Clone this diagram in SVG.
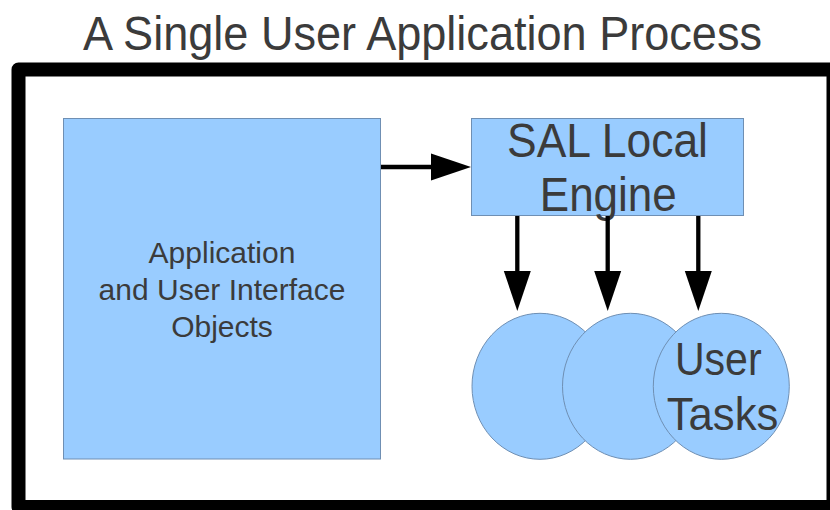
<svg xmlns="http://www.w3.org/2000/svg" width="830" height="510" viewBox="0 0 830 510">
  <style>
    .label { font-family: "Liberation Sans", Arial, sans-serif; fill: #3b3b3b; text-anchor: middle; }
    .shape { fill: #99ccff; stroke: #6f8fb3; stroke-width: 1; }
    .wire { stroke: #000; stroke-width: 4.3; fill: none; marker-end: url(#head); }
  </style>
  <defs>
    <marker id="head" markerUnits="userSpaceOnUse" markerWidth="42" markerHeight="30" refX="0" refY="13.5" orient="auto" overflow="visible">
      <path d="M0,0 L40,13.5 L0,27 Z" fill="#000"/>
    </marker>
  </defs>

  <rect width="830" height="510" fill="#fff"/>

  <!-- title -->
  <text id="title" class="label" x="422.5" y="50" font-size="48" textLength="679" lengthAdjust="spacingAndGlyphs">A Single User Application Process</text>

  <!-- process boundary -->
  <rect id="process" x="18.5" y="69.5" width="815" height="437.5" fill="none" stroke="#000" stroke-width="14" stroke-linejoin="round"/>

  <g id="app-objects">
    <rect class="shape" x="63.5" y="118.5" width="317" height="340.5"/>
    <text class="label" font-size="30" x="222" y="263.3">Application</text>
    <text class="label" font-size="30" x="222" y="300">and User Interface</text>
    <text class="label" font-size="30" x="222" y="336.7">Objects</text>
  </g>

  <g id="sal-engine">
    <rect class="shape" x="471.5" y="118.5" width="272" height="97"/>
    <text class="label" font-size="48" x="607.5" y="156.7" textLength="201" lengthAdjust="spacingAndGlyphs">SAL Local</text>
    <text class="label" font-size="48" x="608.3" y="210.7" textLength="137" lengthAdjust="spacingAndGlyphs">Engine</text>
  </g>

  <g id="task-1">
    <ellipse class="shape" cx="540" cy="386.3" rx="68" ry="73"/>
  </g>
  <g id="task-2">
    <ellipse class="shape" cx="630.5" cy="386.3" rx="68" ry="73"/>
  </g>
  <g id="task-3">
    <ellipse class="shape" cx="721.3" cy="386.3" rx="68" ry="73"/>
    <text class="label" font-size="46" x="718.3" y="375" textLength="86.7" lengthAdjust="spacingAndGlyphs">User</text>
    <text class="label" font-size="46" x="722.5" y="430" textLength="111.7" lengthAdjust="spacingAndGlyphs">Tasks</text>
  </g>

  <g id="connectors">
    <line class="wire" x1="381" y1="167" x2="431" y2="167"/>
    <line class="wire" x1="517.3" y1="216" x2="517.3" y2="271"/>
    <line class="wire" x1="607.7" y1="216" x2="607.7" y2="271"/>
    <line class="wire" x1="698.3" y1="216" x2="698.3" y2="271"/>
  </g>
</svg>
